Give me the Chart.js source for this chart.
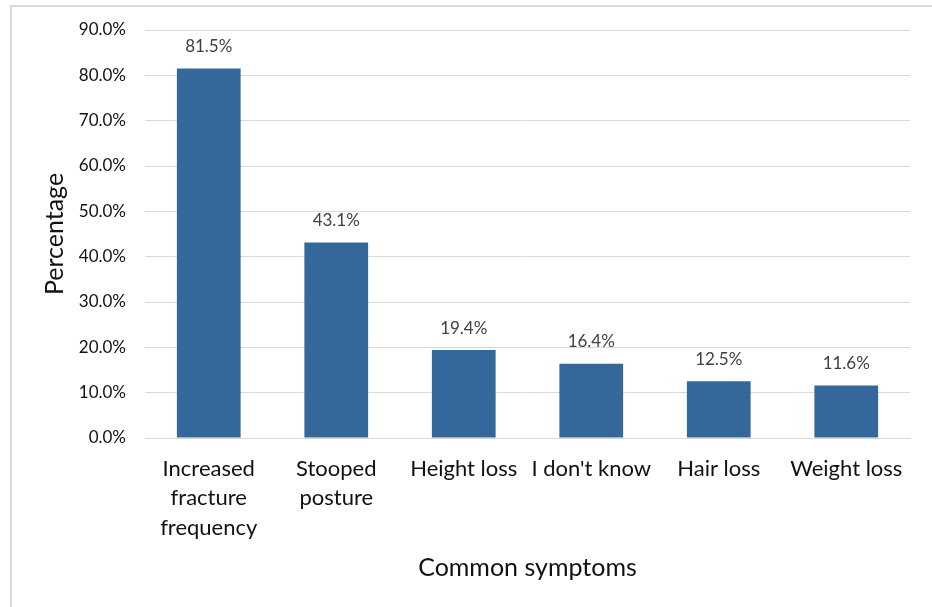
<!DOCTYPE html>
<html>
<head>
<meta charset="utf-8">
<script src="https://cdn.jsdelivr.net/npm/chart.js@4.4.1/dist/chart.umd.min.js"></script>
<style>
  html, body { margin: 0; padding: 0; background: #ffffff; }
  #wrap { position: relative; width: 932px; height: 607px; overflow: hidden; }
  #frame { position: absolute; left: 10px; top: 5px; width: 940px; height: 620px;
           border-left: 2px solid #d9d9d9; border-top: 2px solid #d9d9d9; box-sizing: border-box; }
  canvas { position: absolute; left: 0; top: 0; }
</style>
</head>
<body>
<div id="wrap">
  <div id="frame"></div>
  <canvas id="symptomChart" width="932" height="607"></canvas>
</div>
<script>
// chart data
const symptoms = [
    ['Increased', 'fracture', 'frequency'],
    ['Stooped', 'posture'],
    'Height loss',
    "I don't know",
    'Hair loss',
    'Weight loss'
];
const percentages = [81.5, 43.1, 19.4, 16.4, 12.5, 11.6];
const yTicks = [0, 10, 20, 30, 40, 50, 60, 70, 80, 90];

const fontFamily = 'Lato, "Open Sans", sans-serif';

// draws the value above every bar
const barValueLabels = {
    id: 'barValueLabels',
    afterDatasetsDraw(chart) {
        const ctx = chart.ctx;
        const meta = chart.getDatasetMeta(0);
        ctx.save();
        ctx.font = '17px ' + fontFamily;
        ctx.fillStyle = '#404040';
        ctx.textAlign = 'center';
        ctx.textBaseline = 'middle';
        meta.data.forEach((bar, i) => {
            ctx.fillText(percentages[i].toFixed(1) + '%', bar.x, bar.y - 22);
        });
        ctx.restore();
    }
};

whenReady(() => {
    const ctx = document.getElementById('symptomChart');

    new Chart(ctx, {
        type: 'bar',
        data: {
            labels: symptoms,
            datasets: [{
                data: percentages,
                backgroundColor: '#35689a',
                borderWidth: 0,
                categoryPercentage: 1.0,
                barPercentage: 0.5
            }]
        },
        options: {
            responsive: false,
            animation: false,
            layout: { padding: { top: 30, left: 10, right: 22, bottom: 0 } },
            plugins: {
                legend: { display: false },
                tooltip: { enabled: false }
            },
            scales: {
                x: {
                    grid: { display: false, drawTicks: false },
                    border: { display: true, color: '#d9d9d9', width: 1 },
                    ticks: {
                        color: '#111111',
                        padding: 16,
                        maxRotation: 0,
                        autoSkip: false,
                        font: { family: fontFamily, size: 22, lineHeight: 1.34 }
                    },
                    title: {
                        display: true,
                        text: 'Common symptoms',
                        color: '#111111',
                        font: { family: fontFamily, size: 25 },
                        padding: { top: 0, bottom: 24 }
                    },
                    afterFit(scale) { scale.height = 169; }
                },
                y: {
                    min: 0,
                    max: 90,
                    afterBuildTicks(scale) { scale.ticks = yTicks.map(v => ({ value: v })); },
                    grid: { color: '#d9d9d9', lineWidth: 1, drawTicks: false },
                    border: { display: false },
                    ticks: {
                        color: '#111111',
                        padding: 19,
                        font: { family: fontFamily, size: 17 },
                        callback: v => v.toFixed(1) + '%'
                    },
                    title: {
                        display: true,
                        text: 'Percentage',
                        color: '#111111',
                        font: { family: fontFamily, size: 25 },
                        padding: { top: 30, bottom: 0 }
                    },
                    afterFit(scale) { scale.width = 135; }
                }
            }
        },
        plugins: [barValueLabels]
    });
});

function whenReady(action) {
    if (document.readyState === 'loading') {
        document.addEventListener('DOMContentLoaded', action);
    } else {
        action();
    }
}
</script>
</body>
</html>
